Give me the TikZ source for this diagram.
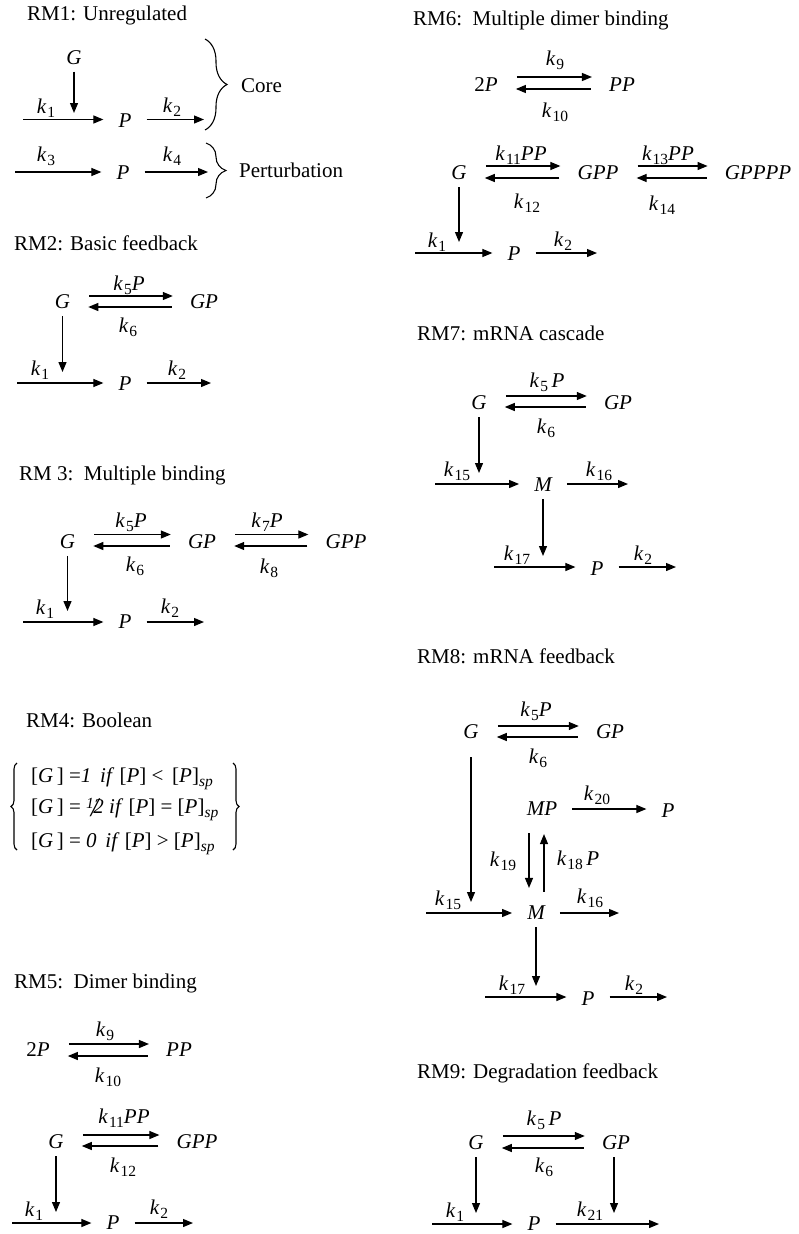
\documentclass[tikz,border=0pt]{standalone}
\usepackage{fontspec}
\setmainfont{Liberation Serif}
\usetikzlibrary{arrows.meta,decorations.pathreplacing}

\newcommand{\bigtxt}{\fontsize{21}{25}\selectfont}
\newcommand{\subtxt}{\fontsize{15.5}{16}\selectfont}
\newcommand{\rk}[1]{\textit{k}\kern1pt\raisebox{-4pt}{\subtxt #1}}
\newcommand{\half}{\textit{\raisebox{5pt}{\subtxt 1}\kern-3pt\raisebox{-3pt}{\fontsize{27}{27}\selectfont /}\kern-5pt2}}

\tikzset{
  sp/.style={font=\bigtxt\itshape, inner xsep=15pt, inner ysep=4pt},
  rate/.style={inner sep=0pt},
  title/.style={anchor=base west, inner sep=0pt},
  flow/.style={line width=1.2pt, -{Triangle[length=10pt,width=8pt]}},
  fwd/.style={flow, shorten <=4pt, shorten >=2pt},
  bwd/.style={flow, shorten <=3pt, shorten >=3pt},
  drop/.style={flow, shorten <=3pt, shorten >=11pt},
  brc/.style={decorate, decoration={brace, amplitude=#1}, line width=1.1pt},
}

\begin{document}
\begin{tikzpicture}[x=1pt, y=-1pt, font=\bigtxt]
  \useasboundingbox (0,0) rectangle (799,1234);

  % RM1
  \node[title] (t1) at (27,20) {RM1: Unregulated};
  \node[sp] (rm1G) at (74,57.5) {G};
  \node[sp] (rm1P) at (125,121) {P};
  \coordinate (rm1in) at (23,119.5);
  \coordinate (rm1out) at (204,119.5);
  \draw[flow] (rm1in) -- (rm1in -| rm1P.west);
  \draw[flow] (rm1P.east |- rm1out) -- (rm1out);
  \draw[flow, shorten <=3pt, shorten >=6.5pt] (rm1G.south) -- (rm1G.south |- rm1in);
  \node[rate] (rm1k1) at (46,108) {\rk{1}};
  \node[rate] (rm1k2) at (172,107) {\rk{2}};
  \node[sp] (rm1Q) at (123,173) {P};
  \coordinate (rm1in2) at (15,172);
  \coordinate (rm1out2) at (208,172);
  \draw[flow] (rm1in2) -- (rm1in2 -| rm1Q.west);
  \draw[flow] (rm1Q.east |- rm1out2) -- (rm1out2);
  \node[rate] (rm1k3) at (46,156) {\rk{3}};
  \node[rate] (rm1k4) at (172,156) {\rk{4}};
  \draw[brc=22pt] (205,39) -- (205,130);
  \draw[brc=20pt] (206,143) -- (206,198);
  \node[anchor=base west, inner sep=0pt] (core) at (241,92) {Core};
  \node[anchor=base west, inner sep=0pt] (pert) at (239,177) {Perturbation};

  % RM2
  \node[title] (t2) at (14,250) {RM2: Basic feedback};
  \node[sp] (rm2G) at (62.5,302) {G};
  \node[sp] (rm2GP) at (204,302) {GP};
  \draw[fwd] ([yshift=6pt]rm2G.east) -- ([yshift=6pt]rm2GP.west);
  \draw[bwd] ([yshift=-5pt]rm2GP.west) -- ([yshift=-5pt]rm2G.east);
  \node[rate] (rm2k5) at (129,285) {\rk{5}\textit{P}};
  \node[rate] (rm2k6) at (128,327) {\rk{6}};
  \node[sp] (rm2P) at (125,384) {P};
  \coordinate (rm2in) at (17,383);
  \coordinate (rm2out) at (211,383);
  \draw[flow] (rm2in) -- (rm2in -| rm2P.west);
  \draw[flow] (rm2P.east |- rm2out) -- (rm2out);
  \draw[drop] (rm2G.south) -- (rm2G.south |- rm2in);
  \node[rate] (rm2k1) at (40,370) {\rk{1}};
  \node[rate] (rm2k2) at (177,370) {\rk{2}};

  % RM3
  \node[title] (t3) at (19,480) {RM 3:\, Multiple binding};
  \node[sp] (rm3G) at (67.5,541.5) {G};
  \node[sp] (rm3GP) at (202,541.5) {GP};
  \node[sp] (rm3GPP) at (346,541.5) {GPP};
  \draw[fwd] ([yshift=7pt]rm3G.east) -- ([yshift=7pt]rm3GP.west);
  \draw[bwd] ([yshift=-4.5pt]rm3GP.west) -- ([yshift=-4.5pt]rm3G.east);
  \draw[fwd] ([yshift=7pt]rm3GP.east) -- ([yshift=7pt]rm3GPP.west);
  \draw[bwd] ([yshift=-4.5pt]rm3GPP.west) -- ([yshift=-4.5pt]rm3GP.east);
  \node[rate] (rm3k5) at (131,522) {\rk{5}\textit{P}};
  \node[rate] (rm3k6) at (135,566) {\rk{6}};
  \node[rate] (rm3k7) at (267,522) {\rk{7}\textit{P}};
  \node[rate] (rm3k8) at (269,568) {\rk{8}};
  \node[sp] (rm3P) at (125,622) {P};
  \coordinate (rm3in) at (23,622);
  \coordinate (rm3out) at (204,622);
  \draw[flow] (rm3in) -- (rm3in -| rm3P.west);
  \draw[flow] (rm3P.east |- rm3out) -- (rm3out);
  \draw[drop] (rm3G.south) -- (rm3G.south |- rm3in);
  \node[rate] (rm3k1) at (45,609) {\rk{1}};
  \node[rate] (rm3k2) at (170,608) {\rk{2}};

  % RM4
  \node[title] (t4) at (26,727) {RM4: Boolean};
  \node[title] (rm4a) at (31,782) {[\textit{G}\,] =\textit{1}\, \textit{if} [\textit{P}] <\, [\textit{P}]\raisebox{-4pt}{\subtxt\itshape sp}};
  \node[title] (rm4b) at (31,813) {[\textit{G}\,] = \half\ \textit{if} [\textit{P}] = [\textit{P}]\raisebox{-4pt}{\subtxt\itshape sp}};
  \node[title] (rm4c) at (31,847) {[\textit{G}\,] = \textit{0}\, \textit{if} [\textit{P}] > [\textit{P}]\raisebox{-4pt}{\subtxt\itshape sp}};
  \draw[brc=6pt] (17,850) -- (17,763);
  \draw[brc=6pt] (233,763) -- (233,850);

  % RM5
  \node[title] (t5) at (14,988) {RM5:\, Dimer binding};
  \node[sp] (rm5P2) at (38,1050) {{\upshape 2}P};
  \node[sp] (rm5PP) at (179,1050) {PP};
  \draw[fwd] ([yshift=6pt]rm5P2.east) -- ([yshift=6pt]rm5PP.west);
  \draw[bwd] ([yshift=-6pt]rm5PP.west) -- ([yshift=-6pt]rm5P2.east);
  \node[rate] (rm5k9) at (105,1031) {\rk{9}};
  \node[rate] (rm5k10) at (108,1077) {\rk{10}};
  \node[sp] (rm5G) at (56,1142) {G};
  \node[sp] (rm5GPP) at (197,1142) {GPP};
  \draw[fwd] ([yshift=7pt]rm5G.east) -- ([yshift=7pt]rm5GPP.west);
  \draw[bwd] ([yshift=-4pt]rm5GPP.west) -- ([yshift=-4pt]rm5G.east);
  \node[rate] (rm5k11) at (124,1118) {\rk{11}\textit{PP}};
  \node[rate] (rm5k12) at (123,1167) {\rk{12}};
  \node[sp] (rm5P) at (113,1223) {P};
  \coordinate (rm5in) at (12,1223);
  \coordinate (rm5out) at (193,1223);
  \draw[flow] (rm5in) -- (rm5in -| rm5P.west);
  \draw[flow] (rm5P.east |- rm5out) -- (rm5out);
  \draw[drop] (rm5G.south) -- (rm5G.south |- rm5in);
  \node[rate] (rm5k1) at (34,1211) {\rk{1}};
  \node[rate] (rm5k2) at (159,1209) {\rk{2}};

  % RM6
  \node[title] (t6) at (413,25) {RM6:\, Multiple dimer binding};
  \node[sp] (rm6P2) at (486,85) {{\upshape 2}P};
  \node[sp] (rm6PP) at (622,85) {PP};
  \draw[fwd] ([yshift=8pt]rm6P2.east) -- ([yshift=8pt]rm6PP.west);
  \draw[bwd] ([yshift=-4pt]rm6PP.west) -- ([yshift=-4pt]rm6P2.east);
  \node[rate] (rm6k9) at (555,60) {\rk{9}};
  \node[rate] (rm6k10) at (555,112) {\rk{10}};
  \node[sp] (rm6G) at (459,173) {G};
  \node[sp] (rm6GPP) at (598,173) {GPP};
  \node[sp] (rm6GPPPP) at (758,173) {GPPPP};
  \draw[fwd] ([yshift=7pt]rm6G.east) -- ([yshift=7pt]rm6GPP.west);
  \draw[bwd] ([yshift=-5pt]rm6GPP.west) -- ([yshift=-5pt]rm6G.east);
  \draw[fwd] ([yshift=7pt]rm6GPP.east) -- ([yshift=7pt]rm6GPPPP.west);
  \draw[bwd] ([yshift=-5pt]rm6GPPPP.west) -- ([yshift=-5pt]rm6GPP.east);
  \node[rate] (rm6k11) at (521,155) {\rk{11}\textit{PP}};
  \node[rate] (rm6k12) at (527,203) {\rk{12}};
  \node[rate] (rm6k13) at (668,155) {\rk{13}\textit{PP}};
  \node[rate] (rm6k14) at (662,205) {\rk{14}};
  \node[sp] (rm6P) at (514,254) {P};
  \coordinate (rm6in) at (415,253);
  \coordinate (rm6out) at (597,253);
  \draw[flow] (rm6in) -- (rm6in -| rm6P.west);
  \draw[flow] (rm6P.east |- rm6out) -- (rm6out);
  \draw[drop] (rm6G.south) -- (rm6G.south |- rm6in);
  \node[rate] (rm6k1) at (437,242) {\rk{1}};
  \node[rate] (rm6k2) at (563,241) {\rk{2}};

  % RM7
  \node[title] (t7) at (417,340) {RM7: mRNA cascade};
  \node[sp] (rm7G) at (479,403) {G};
  \node[sp] (rm7GP) at (618,403) {GP};
  \draw[fwd] ([yshift=7pt]rm7G.east) -- ([yshift=7pt]rm7GP.west);
  \draw[bwd] ([yshift=-4pt]rm7GP.west) -- ([yshift=-4pt]rm7G.east);
  \node[rate] (rm7k5) at (547,382) {\rk{5}\,\textit{P}};
  \node[rate] (rm7k6) at (546,428) {\rk{6}};
  \node[sp] (rm7M) at (543,485) {M};
  \coordinate (rm7in) at (435,484);
  \coordinate (rm7out) at (628,484);
  \draw[flow] (rm7in) -- (rm7in -| rm7M.west);
  \draw[flow] (rm7M.east |- rm7out) -- (rm7out);
  \draw[drop] (rm7G.south) -- (rm7G.south |- rm7in);
  \node[rate] (rm7k15) at (457,471) {\rk{15}};
  \node[rate] (rm7k16) at (599,471) {\rk{16}};
  \node[sp] (rm7P) at (597,569) {P};
  \coordinate (rm7in2) at (494,567);
  \coordinate (rm7out2) at (676,567);
  \draw[flow] (rm7in2) -- (rm7in2 -| rm7P.west);
  \draw[flow] (rm7P.east |- rm7out2) -- (rm7out2);
  \draw[drop] (rm7M.south) -- (rm7M.south |- rm7in2);
  \node[rate] (rm7k17) at (517,555) {\rk{17}};
  \node[rate] (rm7k2) at (643,555) {\rk{2}};

  % RM8
  \node[title] (t8) at (417,663) {RM8: mRNA feedback};
  \node[sp] (rm8G) at (471,732) {G};
  \node[sp] (rm8GP) at (610,732) {GP};
  \draw[fwd] ([yshift=6pt]rm8G.east) -- ([yshift=6pt]rm8GP.west);
  \draw[bwd] ([yshift=-5pt]rm8GP.west) -- ([yshift=-5pt]rm8G.east);
  \node[rate] (rm8k5) at (536,711) {\rk{5}\textit{P}};
  \node[rate] (rm8k6) at (538,758) {\rk{6}};
  \node[sp] (rm8MP) at (542,809) {MP};
  \node[sp] (rm8Pa) at (668,811) {P};
  \draw[flow] (rm8MP.east) -- (rm8MP.east -| rm8Pa.west);
  \node[rate] (rm8k20) at (597,795) {\rk{20}};
  \node[sp] (rm8M) at (536,913) {M};
  \coordinate (rm8dn) at (529,809);
  \coordinate (rm8up) at (544,809);
  \draw[flow, shorten <=13pt, shorten >=14pt] (rm8dn |- rm8MP.south) -- (rm8dn |- rm8M.north);
  \draw[flow, shorten <=10pt, shorten >=14pt] (rm8up |- rm8M.north) -- (rm8up |- rm8MP.south);
  \node[rate] (rm8k19) at (503,861) {\rk{19}};
  \node[rate] (rm8k18) at (578,860) {\rk{18}\,\textit{P}};
  \coordinate (rm8in) at (426,913);
  \coordinate (rm8out) at (619,913);
  \draw[flow] (rm8in) -- (rm8in -| rm8M.west);
  \draw[flow] (rm8M.east |- rm8out) -- (rm8out);
  \draw[drop, shorten <=14pt] (rm8G.south) -- (rm8G.south |- rm8in);
  \node[rate] (rm8k15) at (448,900) {\rk{15}};
  \node[rate] (rm8k16) at (590,898) {\rk{16}};
  \node[sp] (rm8Pb) at (588,999) {P};
  \coordinate (rm8in2) at (485,997);
  \coordinate (rm8out2) at (667,997);
  \draw[flow] (rm8in2) -- (rm8in2 -| rm8Pb.west);
  \draw[flow] (rm8Pb.east |- rm8out2) -- (rm8out2);
  \draw[drop] (rm8M.south) -- (rm8M.south |- rm8in2);
  \node[rate] (rm8k17) at (512,985) {\rk{17}};
  \node[rate] (rm8k2) at (634,985) {\rk{2}};

  % RM9
  \node[title] (t9) at (417,1078) {RM9: Degradation feedback};
  \node[sp] (rm9G) at (476,1143) {G};
  \node[sp] (rm9GP) at (616,1143) {GP};
  \draw[fwd] ([yshift=7pt]rm9G.east) -- ([yshift=7pt]rm9GP.west);
  \draw[bwd] ([yshift=-5pt]rm9GP.west) -- ([yshift=-5pt]rm9G.east);
  \node[rate] (rm9k5) at (544,1120) {\rk{5}\,\textit{P}};
  \node[rate] (rm9k6) at (544,1167) {\rk{6}};
  \node[sp] (rm9P) at (534,1224) {P};
  \coordinate (rm9in) at (432,1224);
  \coordinate (rm9out) at (659,1224);
  \draw[flow] (rm9in) -- (rm9in -| rm9P.west);
  \draw[flow] (rm9P.east |- rm9out) -- (rm9out);
  \draw[drop] (rm9G.south) -- (rm9G.south |- rm9in);
  \draw[drop] ([xshift=-2pt]rm9GP.south) -- ([xshift=-2pt]rm9GP.south |- rm9in);
  \node[rate] (rm9k1) at (455,1212) {\rk{1}};
  \node[rate] (rm9k21) at (590,1211) {\rk{21}};
\end{tikzpicture}
\end{document}
